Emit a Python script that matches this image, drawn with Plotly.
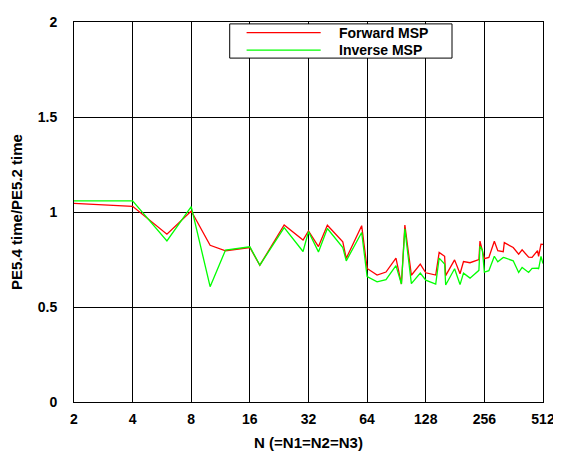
import math
import plotly.graph_objects as go

N = [2, 4, 6, 8, 10, 12, 16, 18, 24, 30, 32, 36, 40, 48, 50, 60, 64, 72, 80, 90,
     96, 100, 108, 120, 128, 144, 150, 160, 162, 180, 192, 200, 216, 240, 243, 250,
     256, 270, 288, 300, 320, 324, 360, 384, 400, 432, 450, 480, 486, 500, 512]

forward = [1.045, 1.03, 0.883, 1.005, 0.825, 0.796, 0.813, 0.72, 0.932, 0.852,
           0.90, 0.818, 0.93, 0.843, 0.756, 0.928, 0.703, 0.668, 0.684, 0.757,
           0.621, 0.931, 0.667, 0.726, 0.68, 0.668, 0.787, 0.767, 0.665, 0.748,
           0.675, 0.739, 0.733, 0.75, 0.847, 0.796, 0.754, 0.761, 0.846, 0.796,
           0.791, 0.839, 0.813, 0.778, 0.801, 0.762, 0.761, 0.797, 0.766, 0.831,
           0.83]

inverse = [1.059, 1.059, 0.848, 1.028, 0.607, 0.80, 0.817, 0.72, 0.918, 0.792,
           0.897, 0.79, 0.913, 0.813, 0.743, 0.892, 0.66, 0.632, 0.644, 0.718,
           0.621, 0.911, 0.623, 0.679, 0.641, 0.621, 0.757, 0.726, 0.616, 0.701,
           0.618, 0.678, 0.652, 0.693, 0.82, 0.80, 0.684, 0.691, 0.767, 0.738,
           0.761, 0.76, 0.743, 0.682, 0.708, 0.682, 0.703, 0.705, 0.70, 0.766,
           0.729]

series_names = ["Forward MSP", "Inverse MSP"]
series_colors = ["#ff0000", "#00ff00"]

x_ticks = [2, 4, 8, 16, 32, 64, 128, 256, 512]
y_ticks = [0, 0.5, 1, 1.5, 2]
y_tick_text = ["0", "0.5", "1", "1.5", "2"]

FONT = "Liberation Sans, Arial, sans-serif"

fig = go.Figure()
for name, vals, col in zip(series_names, [forward, inverse], series_colors):
    fig.add_trace(go.Scatter(x=N, y=vals, mode="lines", name=name, showlegend=False,
                             line=dict(color=col, width=1.3)))

# legend drawn as box + long sample lines + text (gnuplot style)
shapes = [dict(type="rect", xref="paper", yref="paper", x0=0.332, x1=0.806,
               y0=0.905, y1=0.995, line=dict(color="black", width=1),
               fillcolor="white", layer="above")]
annotations = []
for i, (name, col) in enumerate(zip(series_names, series_colors)):
    yy = 0.972 - i * 0.046
    shapes.append(dict(type="line", xref="paper", yref="paper", x0=0.368, x1=0.526,
                       y0=yy, y1=yy, line=dict(color=col, width=1.3), layer="above"))
    annotations.append(dict(xref="paper", yref="paper", x=0.561, y=yy,
                            xanchor="left", yanchor="middle", showarrow=False,
                            text=f"<b>{name}</b>",
                            font=dict(family=FONT, size=14, color="black")))

# the page body adds an 8px offset, so the figure is 8px smaller
fig.update_layout(
    width=553, height=443,
    margin=dict(l=66, r=18, t=14, b=49),
    paper_bgcolor="white", plot_bgcolor="white",
    font=dict(family=FONT, size=14, color="black"),
    showlegend=False,
    shapes=shapes,
    annotations=annotations,
    xaxis=dict(type="log", range=[math.log10(2), math.log10(512)],
               tickvals=x_ticks, ticktext=[f"<b>{v}</b>" for v in x_ticks],
               tickfont=dict(size=14),
               showgrid=True, gridcolor="black", gridwidth=1,
               showline=True, linecolor="black", linewidth=1, mirror=True,
               zeroline=False, ticks="", ticklen=0, ticklabelstandoff=4,
               automargin=False,
               title=dict(text="<b>N (=N1=N2=N3)</b>", font=dict(size=15), standoff=19)),
    yaxis=dict(range=[0, 2], tickvals=y_ticks,
               ticktext=[f"<b>{t}</b>" for t in y_tick_text],
               tickfont=dict(size=14),
               showgrid=True, gridcolor="black", gridwidth=1,
               showline=True, linecolor="black", linewidth=1, mirror=True,
               zeroline=False, ticks="", ticklen=0, ticklabelstandoff=13,
               automargin=False,
               title=dict(text="<b>PE5.4 time/PE5.2 time</b>", font=dict(size=15), standoff=13)),
)

fig.write_html("out.html")
